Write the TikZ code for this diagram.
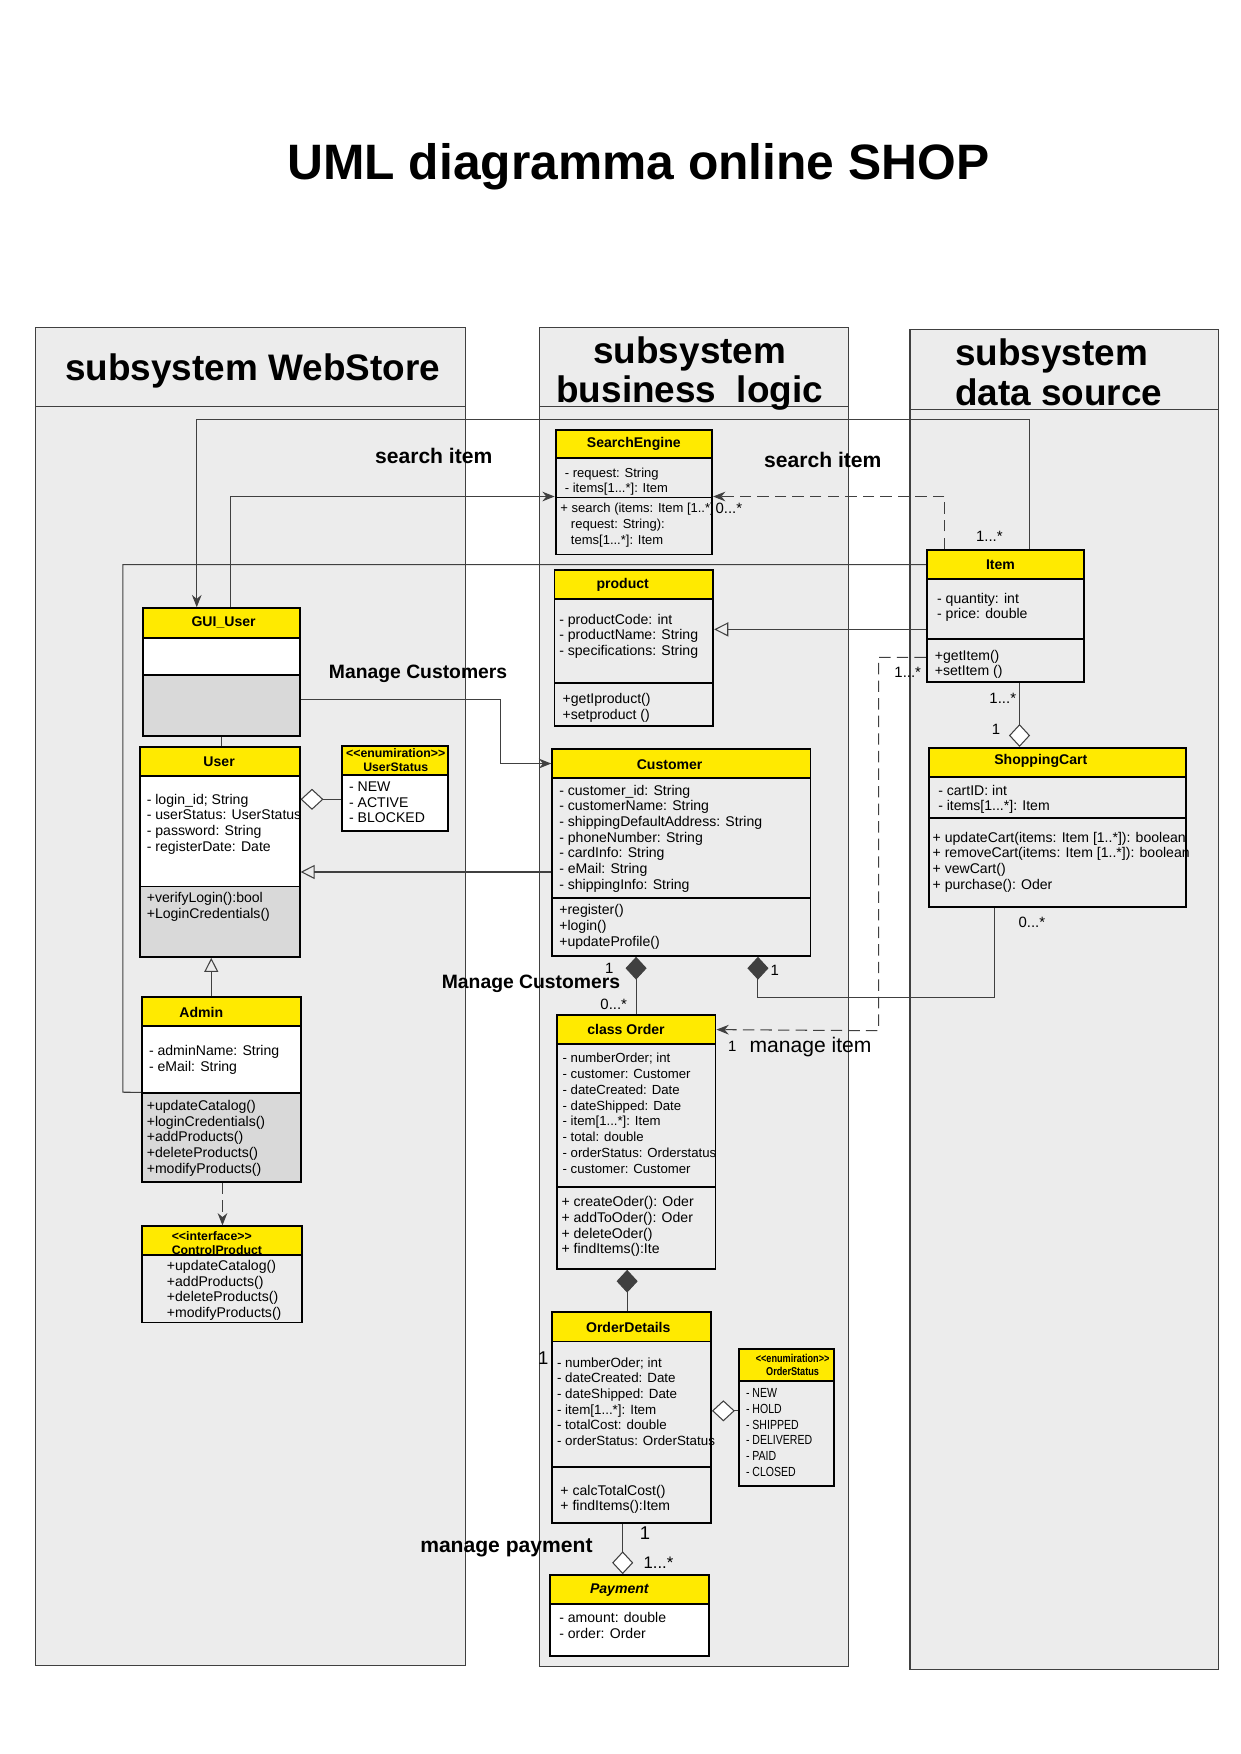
\documentclass[tikz,border=0pt]{standalone}
\usepackage{fontspec}
\setmainfont{Liberation Sans}
\newfontfamily\condfont[FakeStretch=0.8]{Liberation Sans}
\usepackage{tikz}
\usetikzlibrary{arrows.meta,positioning,fit}
\definecolor{umlyellow}{RGB}{255,234,0}

\tikzset{
  panel/.style={draw=black!75, line width=0.6pt, fill=gray!15, inner sep=0pt},
  paneltext/.style={inner sep=0pt, font=\bfseries\fontsize{21}{22.3}\selectfont},
  head/.style={draw, line width=1.1pt, fill=umlyellow, inner sep=0pt},
  headtext/.style={inner sep=0pt, font=\bfseries\fontsize{8}{9}\selectfont},
  sect/.style={draw, line width=1.1pt, fill=gray!15, inner sep=0pt},
  members/.style={anchor=north west, inner sep=0pt, align=left, font=\fontsize{8}{8.9}\selectfont},
  conn/.style={draw=black!75, line width=0.6pt},
  dconn/.style={conn, dash pattern=on 6.5pt off 3.5pt},
  toarrow/.style={-{Stealth[length=7pt,width=5.5pt]}},
  gen/.style={-{Triangle[open,length=8pt,width=8pt]}},
  agg/.style={{Diamond[fill=white,length=13pt,width=12pt]}-},
  comp/.style={{Diamond[length=13pt,width=12pt]}-},
  lbl/.style={font=\bfseries\fontsize{12}{14}\selectfont},
  mult/.style={inner sep=0pt, font=\fontsize{8.5}{10}\selectfont}
}

\begin{document}
\begin{tikzpicture}[x=0.02236cm, y=-0.02236cm]
  \useasboundingbox (0,0) rectangle (1110,1569);

  \node (title) at (571,149) [font=\bfseries\fontsize{28.3}{30}\selectfont] {UML diagramma online SHOP};

  \node (webH) [panel, fit={(32,293) (416,364)}] {};
  \node (webB) [panel, fit={(32,364) (416,1490)}] {};
  \node (bizH) [panel, fit={(483,293) (759,364)}] {};
  \node (bizB) [panel, fit={(483,364) (759,1491)}] {};
  \node (datH) [panel, fit={(814,295) (1090,366)}] {};
  \node (datB) [panel, fit={(814,366) (1090,1493)}] {};
  \node (webHx) at (226,332) [paneltext] {subsystem WebStore};
  \node (bizHx) at (617,334) [paneltext, align=center] {subsystem\\business\ \ logic};
  \node (datHx) at (947,333) [paneltext, align=left] {subsystem\\data source};

  \node (seT) [head, fit={(497,385) (637,410)}] {};
  \node (seA) [sect, fit={(497,410) (637,445)}] {};
  \node (seM) [sect, fit={(497,445) (637,496)}] {};
  \node (seTx) at (567,397) [headtext] {SearchEngine};
  \node (seAt) at (505,418) [members, font=\fontsize{7.4}{8.9}\selectfont] {- request: String\\- items[1...*]: Item};
  \node (seMt) at (501,450) [members, font=\fontsize{7.4}{8.9}\selectfont] {+ search (items: Item [1..*]\\\hspace*{6pt}request: String):\\\hspace*{6pt}tems[1...*]: Item};

  \node (prT) [head, fit={(496,510) (638,536)}] {};
  \node (prA) [sect, fit={(496,536) (638,611)}] {};
  \node (prM) [sect, fit={(496,611) (638,649)}] {};
  \node (prTx) at (557,523) [headtext] {product};
  \node (prAt) at (500,549) [members] {- productCode: int\\- productName: String\\- specifications: String};
  \node (prMt) at (503,620) [members] {+getIproduct()\\+setproduct ()};

  \node (itT) [head, fit={(829,492) (970,518)}] {};
  \node (itA) [sect, fit={(829,518) (970,572)}] {};
  \node (itM) [sect, fit={(829,572) (970,610)}] {};
  \node (itTx) at (895,505) [headtext] {Item};
  \node (itAt) at (838,530) [members] {- quantity: int\\- price: double};
  \node (itMt) at (836,581) [members] {+getItem()\\+setItem ()};

  \node (scT) [head, fit={(831,669) (1061,695)}] {};
  \node (scA) [sect, fit={(831,695) (1061,732)}] {};
  \node (scM) [sect, fit={(831,732) (1061,811)}] {};
  \node (scTx) at (931,681) [headtext] {ShoppingCart};
  \node (scAt) at (839,702) [members] {- cartID: int\\- items[1...*]: Item};
  \node (scMt) at (834,744) [members] {+ updateCart(items: Item [1..*]): boolean\\+ removeCart(items: Item [1..*]): boolean\\+ vewCart()\\+ purchase(): Oder};

  \node (guT) [head, fit={(128,544) (268,571)}] {};
  \node (guA) [sect, fill=white, fit={(128,571) (268,604)}] {};
  \node (guM) [sect, fill=gray!30, fit={(128,604) (268,658)}] {};
  \node (guTx) at (200,557) [headtext] {GUI\_User};

  \node (uT) [head, fit={(125,668) (268,694)}] {};
  \node (uA) [sect, fill=white, fit={(125,694) (268,793)}] {};
  \node (uM) [sect, fill=gray!30, fit={(125,793) (268,856)}] {};
  \node (uTx) at (196,681) [headtext] {User};
  \node (uAt) at (131,710) [members] {- login\_id; String\\- userStatus: UserStatus\\- password: String\\- registerDate: Date};
  \node (uMt) at (131,798) [members] {+verifyLogin():bool\\+LoginCredentials()};

  \node (usT) [head, fit={(306,667) (401,693)}] {};
  \node (usV) [sect, fill=white, fit={(306,693) (401,743)}] {};
  \node (usTx) at (354,680) [headtext, align=center, font=\bfseries\fontsize{7}{7.8}\selectfont] {<{}<enumiration>{}>\\UserStatus};
  \node (usVt) at (312,699) [members] {- NEW\\- ACTIVE\\- BLOCKED};

  \node (adT) [head, fit={(127,892) (269,918)}] {};
  \node (adA) [sect, fill=white, fit={(127,918) (269,978)}] {};
  \node (adM) [sect, fill=gray!30, fit={(127,978) (269,1057)}] {};
  \node (adTx) at (180,906) [headtext] {Admin};
  \node (adAt) at (133,935) [members] {- adminName: String\\- eMail: String};
  \node (adMt) at (131,984) [members] {+updateCatalog()\\+loginCredentials()\\+addProducts()\\+deleteProducts()\\+modifyProducts()};

  \node (cpT) [head, fit={(127,1097) (270,1123)}] {};
  \node (cpM) [sect, fit={(127,1123) (270,1183)}] {};
  \node (cpTx) at (194,1112) [headtext, align=left, font=\bfseries\fontsize{7}{7.8}\selectfont] {<{}<interface>{}>\\ControlProduct};
  \node (cpMt) at (149,1127) [members] {+updateCatalog()\\+addProducts()\\+deleteProducts()\\+modifyProducts()};

  \node (cuT) [head, fit={(494,670) (725,696)}] {};
  \node (cuA) [sect, fit={(494,696) (725,803)}] {};
  \node (cuM) [sect, fit={(494,803) (725,855)}] {};
  \node (cuTx) at (599,684) [headtext] {Customer};
  \node (cuAt) at (500,702) [members] {- customer\_id: String\\- customerName: String\\- shippingDefaultAddress: String\\- phoneNumber: String\\- cardInfo: String\\- eMail: String\\- shippingInfo: String};
  \node (cuMt) at (500,809) [members] {+register()\\+login()\\+updateProfile()};

  \node (orT) [head, fit={(498,908) (640,934)}] {};
  \node (orA) [sect, fit={(498,934) (640,1062)}] {};
  \node (orM) [sect, fit={(498,1062) (640,1135)}] {};
  \node (orTx) at (560,921) [headtext] {class Order};
  \node (orAt) at (503,942) [members, font=\fontsize{7.5}{8.95}\selectfont] {- numberOrder; int\\- customer: Customer\\- dateCreated: Date\\- dateShipped: Date\\- item[1...*]: Item\\- total: double\\- orderStatus: Orderstatus\\- customer: Customer};
  \node (orMt) at (502,1070) [members] {+ createOder(): Oder\\+ addToOder(): Oder\\+ deleteOder()\\+ findItems():Ite};

  \node (odT) [head, fit={(494,1174) (636,1200)}] {};
  \node (odA) [sect, fit={(494,1200) (636,1312)}] {};
  \node (odM) [sect, fit={(494,1312) (636,1362)}] {};
  \node (odTx) at (562,1187) [headtext] {OrderDetails};
  \node (odAt) at (498,1214) [members, font=\fontsize{7.6}{8.9}\selectfont] {- numberOder; int\\- dateCreated: Date\\- dateShipped: Date\\- item[1...*]: Item\\- totalCost: double\\- orderStatus: OrderStatus};
  \node (odMt) at (501,1328) [members] {+ calcTotalCost()\\+ findItems():Item};

  \node (osT) [head, fit={(661,1207) (746,1235)}] {};
  \node (osV) [sect, fit={(661,1235) (746,1329)}] {};
  \node (osTx) at (709,1221) [headtext, align=center, font=\condfont\bfseries\fontsize{6.5}{7.5}\selectfont] {<{}<enumiration>{}>\\OrderStatus};
  \node (osVt) at (667,1242) [members, font=\condfont\fontsize{7.5}{8.9}\selectfont] {- NEW\\- HOLD\\- SHIPPED\\- DELIVERED\\- PAID\\- CLOSED};

  \node (pyT) [head, fit={(492,1409) (634,1435)}] {};
  \node (pyA) [sect, fill=white, fit={(492,1435) (634,1481)}] {};
  \node (pyTx) at (554,1422) [headtext, font=\bfseries\itshape\fontsize{8}{9}\selectfont] {Payment};
  \node (pyAt) at (500,1442) [members] {- amount: double\\- order: Order};

  \draw[conn, toarrow] (itT.north -| 921,0) -- (921,375) -| (guT.north -| 176,0);
  \draw[conn, toarrow] (guT.north -| 206,0) |- (seM.north west);
  \draw[conn] (itT.west) -| (110,977) -- (adM.north west);
  \draw[dconn, toarrow] (itT.north -| 845,0) |- (seM.north east);
  \draw[conn, gen] (itA.west |- 0,563) -- (prA.east |- 0,563);
  \draw[dconn, toarrow] (itM.west |- 0,588) -| (786,922) -- (orT.east);
  \draw[conn, agg] (scT.north -| 912,0) -- (itM.south -| 912,0);
  \draw[conn, comp] (cuM.south -| 678,0) |- (890,892) -- (scM.south -| 890,0);
  \draw[conn, comp] (cuM.south -| 569,0) -- (orT.north -| 569,0);
  \draw[conn, toarrow] (guM.east |- 0,626) -| (448,683) -- (cuT.west);
  \draw[conn, gen] (cuA.west |- 0,780) -- (uA.east |- 0,780);
  \draw[conn, agg] (uA.east |- 0,715) -- (usV.west |- 0,715);
  \draw[conn] (guM.south -| 198,0) -- (uT.north -| 198,0);
  \draw[conn, gen] (adT.north -| 189,0) -- (uM.south -| 189,0);
  \draw[dconn, toarrow] (adM.south -| 199,0) -- (cpT.north -| 199,0);
  \draw[conn, comp] (orM.south -| 561,0) -- (odT.north -| 561,0);
  \draw[conn, agg] (odA.east |- 0,1262) -- (osV.west |- 0,1262);
  \draw[conn, agg] (pyT.north -| 557,0) -- (odM.south -| 557,0);

  \node (searchL) at (388,408) [lbl] {search item};
  \node (searchR) at (736,411) [lbl] {search item};
  \node (manageU) at (374,603) [lbl, font=\bfseries\fontsize{11}{13}\selectfont] {Manage Customers};
  \node (manageD) at (475,880) [lbl, font=\bfseries\fontsize{11}{13}\selectfont] {Manage Customers};
  \node (manageI) at (725,937) [font=\fontsize{12}{14}\selectfont] {manage item};
  \node (manageP) at (453,1385) [lbl] {manage payment};

  \node (mSe) at (652,455) [mult] {0...*};
  \node (mItTop) at (885,480) [mult] {1...*};
  \node (mItLeft) at (812,601) [mult] {1...*};
  \node (mItBot) at (897,625) [mult] {1...*};
  \node (mScTop) at (891,652) [mult] {1};
  \node (mScBot) at (923,825) [mult] {0...*};
  \node (mCuR) at (693,868) [mult] {1};
  \node (mCuL) at (545,866) [mult] {1};
  \node (mOrTop) at (549,898) [mult] {0...*};
  \node (mOrR) at (655,936) [mult] {1};
  \node (mOdL) at (486,1215) [mult, font=\fontsize{10.5}{12}\selectfont] {1};
  \node (mOdBot) at (577,1371) [mult, font=\fontsize{10.5}{12}\selectfont] {1};
  \node (mPy) at (589,1398) [mult, font=\fontsize{9.5}{11}\selectfont] {1...*};
\end{tikzpicture}
\end{document}
